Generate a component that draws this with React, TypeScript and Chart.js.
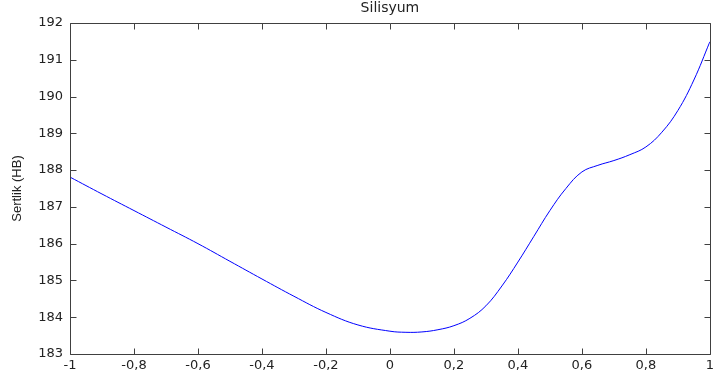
import React, { useEffect, useRef } from "react";
import { Chart, registerables } from "chart.js";

Chart.register(...registerables);

const titleText = "Silisyum";
const yAxisTitle = "Sertlik (HB)";
const xValues = [-1, -0.9, -0.8, -0.7, -0.6, -0.5, -0.4, -0.3, -0.2, -0.1, 0, 0.05, 0.1, 0.15, 0.2, 0.25, 0.3, 0.35, 0.4, 0.45, 0.5, 0.55, 0.6, 0.65, 0.7, 0.75, 0.8, 0.85, 0.9, 0.95, 1];
const yValues = [187.81, 187.35, 186.9, 186.45, 186.0, 185.52, 185.04, 184.57, 184.13, 183.79, 183.62, 183.59, 183.6, 183.66, 183.77, 183.97, 184.31, 184.85, 185.5, 186.2, 186.9, 187.5, 187.95, 188.13, 188.26, 188.42, 188.63, 189.03, 189.62, 190.45, 191.49];
const xTickRange = { min: -1, max: 1, step: 0.2 };
const yTickRange = { min: 183, max: 192, step: 1 };

const fmt = (v: number) => String(Math.round(v * 10) / 10).replace(".", ",");

const boxPlugin = {
  id: "boxTicks",
  afterDraw(chart: any) {
    const { ctx, chartArea } = chart;
    const x0 = Math.round(chartArea.left) + 0.5;
    const x1 = Math.round(chartArea.right) + 0.5;
    const y0 = Math.round(chartArea.top) + 0.5;
    const y1 = Math.round(chartArea.bottom) + 0.5;
    ctx.save();
    ctx.strokeStyle = "#404040";
    ctx.lineWidth = 1;
    ctx.beginPath();
    ctx.rect(x0, y0, x1 - x0, y1 - y0);
    const tl = 6;
    const xs = chart.scales.x;
    xs.ticks.forEach((t: any) => {
      const px = Math.round(xs.getPixelForValue(t.value)) + 0.5;
      ctx.moveTo(px, y1);
      ctx.lineTo(px, y1 - tl);
      ctx.moveTo(px, y0);
      ctx.lineTo(px, y0 + tl);
    });
    const ys = chart.scales.y;
    ys.ticks.forEach((t: any) => {
      const py = Math.round(ys.getPixelForValue(t.value)) + 0.5;
      ctx.moveTo(x0, py);
      ctx.lineTo(x0 + tl, py);
      ctx.moveTo(x1, py);
      ctx.lineTo(x1 - tl, py);
    });
    ctx.stroke();
    ctx.restore();
  },
};

export default function App() {
  const ref = useRef<HTMLCanvasElement | null>(null);
  useEffect(() => {
    if (!ref.current) return;
    const tickFont = { family: "'DejaVu Sans', sans-serif", size: 13 };
    const chart = new Chart(ref.current, {
      type: "line",
      data: {
        datasets: [
          {
            data: xValues.map((x, i) => ({ x, y: yValues[i] })),
            borderColor: "#0000ff",
            borderWidth: 1,
            pointRadius: 0,
            tension: 0.4,
            fill: false,
          },
        ],
      },
      options: {
        responsive: false,
        animation: false,
        layout: { padding: { left: 0, right: 1, top: 0, bottom: 0 } },
        plugins: {
          legend: { display: false },
          tooltip: { enabled: false },
          title: {
            display: true,
            fullSize: false,
            text: titleText,
            color: "#222",
            font: { family: "'DejaVu Sans', sans-serif", size: 14, weight: "normal", lineHeight: 1.2 },
            padding: { top: 0, bottom: 6.2 },
          },
        },
        scales: {
          x: {
            type: "linear",
            min: xTickRange.min,
            max: xTickRange.max,
            grid: { display: false, drawTicks: false },
            border: { display: false },
            ticks: {
              stepSize: xTickRange.step,
              color: "#222",
              font: tickFont,
              padding: 4,
              maxRotation: 0,
              autoSkip: false,
              callback: (v: any) => fmt(Number(v)),
            },
            afterFit: (s: any) => {
              s.height = 24;
            },
          },
          y: {
            type: "linear",
            min: yTickRange.min,
            max: yTickRange.max,
            grid: { display: false, drawTicks: false },
            border: { display: false },
            ticks: {
              stepSize: yTickRange.step,
              color: "#222",
              font: tickFont,
              padding: 7,
              autoSkip: false,
              callback: (v: any) => fmt(Number(v)),
            },
            title: {
              display: true,
              text: yAxisTitle,
              color: "#222",
              font: { family: "'Liberation Sans', Arial, sans-serif", size: 13, lineHeight: 1.2 },
              padding: { top: 9.2, bottom: 0 },
            },
            afterFit: (s: any) => {
              s.width = 70;
            },
          },
        },
      },
      plugins: [boxPlugin],
    } as any);
    return () => chart.destroy();
  }, []);
  return (
    <div style={{ position: "fixed", left: 0, top: 0, width: 718, height: 378, background: "#fff" }}>
      <canvas ref={ref} width={718} height={378} style={{ display: "block" }} />
    </div>
  );
}
